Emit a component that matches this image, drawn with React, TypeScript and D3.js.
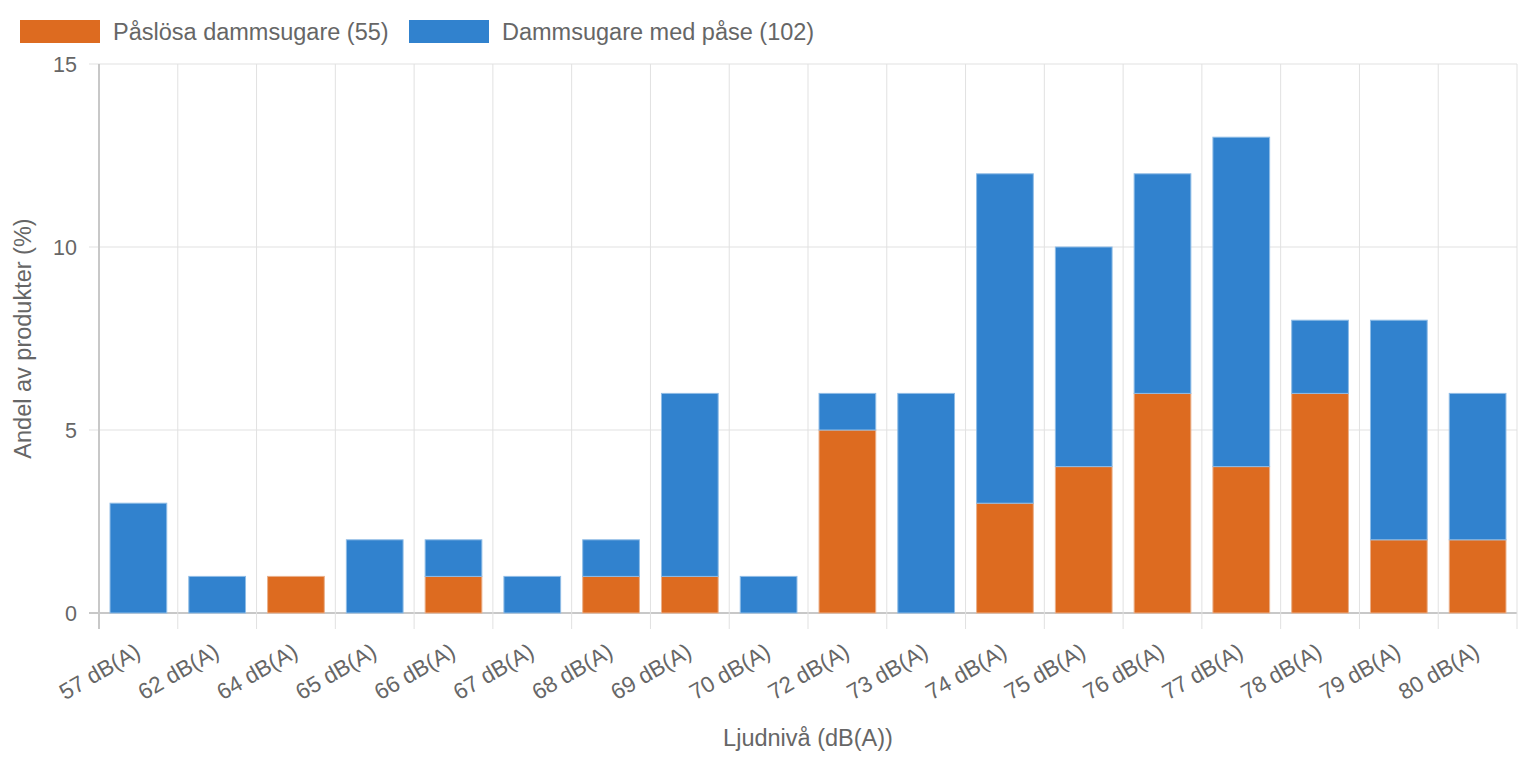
import { useEffect, useRef } from 'react';
import * as d3 from 'd3';

const categories = ['57', '62', '64', '65', '66', '67', '68', '69', '70', '72', '73', '74', '75', '76', '77', '78', '79', '80'];
const paslosa = [0, 0, 1, 0, 1, 0, 1, 1, 0, 5, 0, 3, 4, 6, 4, 6, 2, 2];
const medPase = [3, 1, 0, 2, 1, 1, 1, 5, 1, 1, 6, 9, 6, 6, 9, 2, 6, 4];
const yTicks = [0, 5, 10, 15];
const seriesNames = ['Påslösa dammsugare (55)', 'Dammsugare med påse (102)'];
const colors = ['#dd6b20', '#3182ce'];

export default function App() {
  const ref = useRef<SVGSVGElement>(null);

  useEffect(() => {
    if (!ref.current) return;
    const svg = d3.select(ref.current);
    svg.selectAll('*').remove();

    const font = 'Liberation Sans, Arial, sans-serif';
    const left = 99, right = 1517, top = 64, bottom = 613;

    const x = d3.scaleBand().domain(categories).range([left, right]).paddingInner(0.28).paddingOuter(0.14);
    const step = (right - left) / categories.length;
    const y = d3.scaleLinear().domain([0, 15]).range([bottom, top]);

    const g = svg.append('g');

    // grid
    g.selectAll('line.hgrid').data(yTicks).enter().append('line')
      .attr('x1', left - 10).attr('x2', right)
      .attr('y1', (d) => y(d)).attr('y2', (d) => y(d))
      .attr('stroke', (d) => (d === 0 ? '#c8c8c8' : '#e1e1e1')).attr('stroke-width', (d) => (d === 0 ? 2 : 1));
    g.selectAll('line.vgrid').data(d3.range(categories.length + 1)).enter().append('line')
      .attr('x1', (i) => left + i * step).attr('x2', (i) => left + i * step)
      .attr('y1', top).attr('y2', bottom + 16)
      .attr('stroke', (i) => (i === 0 ? '#c8c8c8' : '#e1e1e1')).attr('stroke-width', (i) => (i === 0 ? 2 : 1));

    // y tick labels
    g.selectAll('text.ytick').data(yTicks).enter().append('text')
      .attr('x', 77).attr('y', (d) => y(d)).attr('dy', '0.35em')
      .attr('text-anchor', 'end').attr('font-family', font).attr('font-size', 21.5).attr('fill', '#666')
      .text((d) => d);

    // stacked bars
    const rows = categories.map((c, i) => ({ cat: c, a: paslosa[i], b: medPase[i] }));
    const stack = d3.stack<any>().keys(['a', 'b'])(rows);
    stack.forEach((layer, li) => {
      g.selectAll(`rect.s${li}`).data(layer).enter().append('rect')
        .attr('x', (d: any) => x(d.data.cat)!)
        .attr('width', x.bandwidth())
        .attr('y', (d: any) => y(d[1]))
        .attr('height', (d: any) => y(d[0]) - y(d[1]))
        .attr('fill', colors[li])
        .attr('stroke', li === 0 ? '#eab08a' : '#8fbce6')
        .attr('stroke-width', (d: any) => (d[1] - d[0] > 0 ? 1 : 0));
    });

    // x tick labels
    g.selectAll('text.xtick').data(categories).enter().append('text')
      .attr('transform', (c) => `translate(${x(c)! + x.bandwidth() / 2 + 3.5},${bottom + 43}) rotate(-30)`)
      .attr('text-anchor', 'end').attr('font-family', font).attr('font-size', 22.5).attr('fill', '#666')
      .text((c) => `${c} dB(A)`);

    // axis titles
    g.append('text').attr('x', (left + right) / 2).attr('y', 746)
      .attr('text-anchor', 'middle').attr('font-family', font).attr('font-size', 23.5).attr('fill', '#666')
      .text('Ljudnivå (dB(A))');
    g.append('text').attr('transform', `translate(31,${(top + bottom) / 2}) rotate(-90)`)
      .attr('text-anchor', 'middle').attr('font-family', font).attr('font-size', 23.5).attr('fill', '#666')
      .text('Andel av produkter (%)');

    // legend
    const legendX = [20, 409];
    seriesNames.forEach((name, i) => {
      g.append('rect').attr('x', legendX[i]).attr('y', 20).attr('width', 80).attr('height', 23).attr('fill', colors[i]);
      g.append('text').attr('x', legendX[i] + 93).attr('y', 32).attr('dy', '0.35em')
        .attr('font-family', font).attr('font-size', 23.5).attr('fill', '#666').text(name);
    });
  }, []);

  return (
    <svg ref={ref} width={1518} height={758} style={{ position: 'absolute', left: 0, top: 0, background: '#fff' }} />
  );
}
